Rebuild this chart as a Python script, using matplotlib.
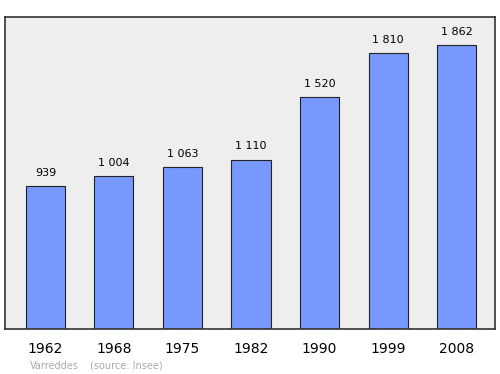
import matplotlib.pyplot as plt

# population data
years = ['1962', '1968', '1975', '1982', '1990', '1999', '2008']
population = [939, 1004, 1063, 1110, 1520, 1810, 1862]
labels = ['939', '1 004', '1 063', '1 110', '1 520', '1 810', '1 862']

fig = plt.figure(figsize=(5, 3.74), dpi=100)
ax = fig.add_axes([0.01, 0.1203, 0.98, 0.834])
ax.set_facecolor('#eeeeee')

x = range(len(years))
bars = ax.bar(x, population, width=0.57, color='#7799ff', edgecolor='#222222', linewidth=0.8)

for b, lab in zip(bars, labels):
    ax.annotate(lab, (b.get_x() + b.get_width() / 2, b.get_height()),
                xytext=(0, 6), textcoords='offset points',
                ha='center', va='bottom', fontsize=8)

ax.set_xlim(-0.59, 6.56)
ax.set_ylim(0, 2046)
ax.set_xticks(list(x))
ax.set_xticklabels(years, fontsize=10)
ax.tick_params(axis='x', length=0, pad=9)
ax.set_yticks([])
for s in ax.spines.values():
    s.set_color('#333333')
    s.set_linewidth(1.2)

fig.text(0.06, 0.014, 'Varreddes', fontsize=7, color='#aaaaaa')
fig.text(0.18, 0.014, '(source: Insee)', fontsize=7, color='#aaaaaa')

fig.savefig('out.png')
